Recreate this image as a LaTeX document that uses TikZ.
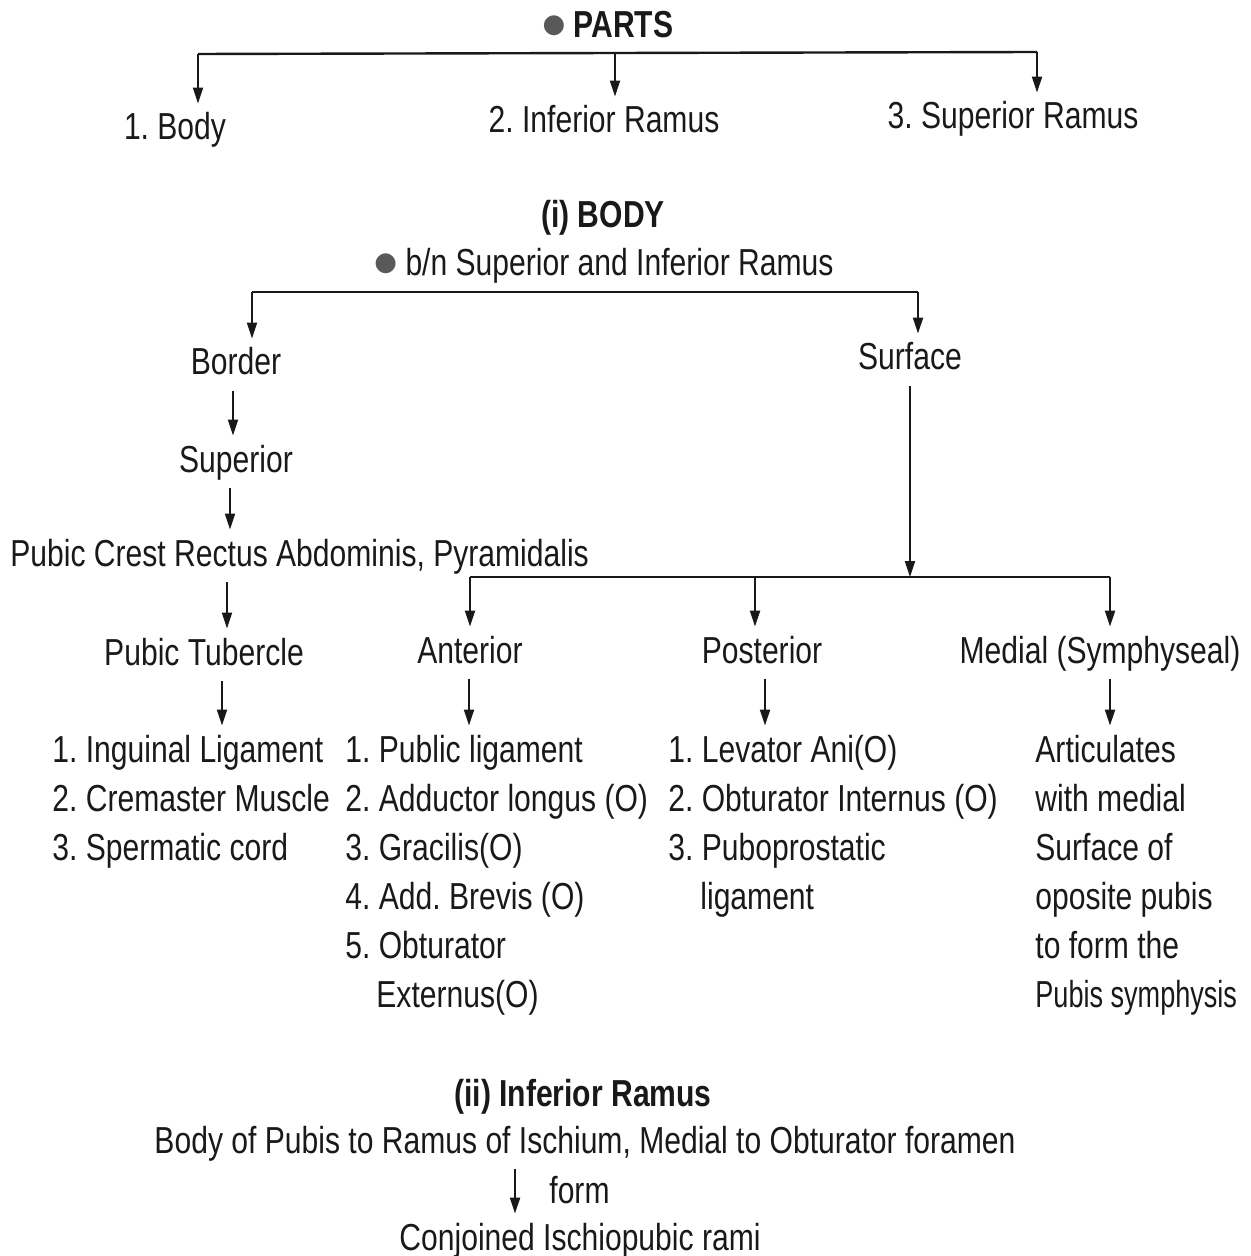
\documentclass[tikz,border=0pt]{standalone}
\usepackage{fontspec}
\setmainfont[FakeStretch=0.8]{Liberation Sans}
\newfontfamily\symfont{DejaVu Sans}
\usetikzlibrary{arrows.meta}
\newcommand\mybul{\raisebox{2.5pt}{\symfont\fontsize{13}{13}\selectfont\textcolor{black!65}{●}}}
\begin{document}
\begin{tikzpicture}[x=0.5pt,y=-0.5pt,
  txt/.style={font=\frenchspacing\fontsize{18.8}{24}\selectfont, text height=14pt, text depth=4pt, inner xsep=0pt, inner ysep=4pt, text=black!90},
  ctr/.style={txt, anchor=base},
  lft/.style={txt, anchor=base west},
  arr/.style={line width=1pt, black!90, -{Triangle[length=8pt,width=5pt]}},
  ln/.style={line width=1.2pt, black!90}]
\useasboundingbox (0,0) rectangle (1250,1256);
% ---------- PARTS ----------
\node[ctr] (parts) at (608,38) {\mybul\ \textbf{PARTS}};
\node[ctr] (body1) at (175,140) {1. Body};
\node[ctr] (infr) at (604,133) {2. Inferior Ramus};
\node[ctr] (supr) at (1013,129) {3. Superior Ramus};
\coordinate (pL) at (198,54);
\coordinate (pM) at (615,53);
\coordinate (pR) at (1037,52);
\draw[ln] (pL) -- (pR);
\draw[arr] (pL) -- (pL |- body1.north);
\draw[arr] (pM) -- (pM |- infr.north);
\draw[arr] (pR) -- (pR |- supr.north);
% ---------- (i) BODY ----------
\node[ctr] (bodyhead) at (603,228) {\textbf{(i) BODY}};
\node[ctr] (btwn) at (604,276) {\mybul\ b/n Superior and Inferior Ramus};
\node[ctr] (border) at (236,375) {Border};
\node[ctr] (surface) at (910,370) {Surface};
\coordinate (bL) at (252,292);
\coordinate (bR) at (918,292);
\draw[ln] (bL) -- (bR);
\draw[arr] (bL) -- (bL |- border.north);
\draw[arr] (bR) -- (bR |- surface.north);
\node[ctr] (superior) at (236,472) {Superior};
\node[lft] (crest) at (10,566) {Pubic Crest Rectus Abdominis, Pyramidalis};
\node[ctr] (tubercle) at (204,665) {Pubic Tubercle};
\coordinate (x1) at (233,0);
\coordinate (x2) at (230,0);
\coordinate (x3) at (227,0);
\coordinate (x4) at (222,0);
\draw[arr] (border.south -| x1) -- (superior.north -| x1);
\draw[arr] (superior.south -| x2) -- (crest.north -| x2);
\draw[arr] (crest.south -| x3) -- (tubercle.north -| x3);
% surface branch
\coordinate (sx) at (910,0);
\coordinate (hL) at (470,577);
\coordinate (hM) at (755,577);
\coordinate (hR) at (1110,577);
\draw[ln] (hL) -- (hR);
\draw[arr] (surface.south -| sx) -- (sx |- hL);
\node[ctr] (anterior) at (470,663) {Anterior};
\node[ctr] (posterior) at (762,663) {Posterior};
\node[ctr] (medial) at (1100,663) {Medial (Symphyseal)};
\draw[arr] (hL) -- (hL |- anterior.north);
\draw[arr] (hM) -- (hM |- posterior.north);
\draw[arr] (hR) -- (hR |- medial.north);
% lists
\node[lft] (c1a) at (52,762) {1. Inguinal Ligament};
\node[lft] (c1b) at (52,811) {2. Cremaster Muscle};
\node[lft] (c1c) at (52,860) {3. Spermatic cord};
\node[lft] (c2a) at (345,762) {1. Public ligament};
\node[lft] (c2b) at (345,811) {2. Adductor longus (O)};
\node[lft] (c2c) at (345,860) {3. Gracilis(O)};
\node[lft] (c2d) at (345,909) {4. Add. Brevis (O)};
\node[lft] (c2e) at (345,958) {5. Obturator};
\node[lft] (c2f) at (376,1007) {Externus(O)};
\node[lft] (c3a) at (668,762) {1. Levator Ani(O)};
\node[lft] (c3b) at (668,811) {2. Obturator Internus (O)};
\node[lft] (c3c) at (668,860) {3. Puboprostatic};
\node[lft] (c3d) at (700,909) {ligament};
\node[lft] (c4a) at (1035,762) {Articulates};
\node[lft] (c4b) at (1035,811) {with medial};
\node[lft] (c4c) at (1035,860) {Surface of};
\node[lft] (c4d) at (1035,909) {oposite pubis};
\node[lft] (c4e) at (1035,958) {to form the};
\node[lft] (c4f) at (1035,1007) {\scalebox{0.9}[1]{Pubis symphysis}};
\coordinate (ax) at (469,0);
\coordinate (px) at (765,0);
\coordinate (mx) at (1110,0);
\draw[arr] (tubercle.south -| x4) -- (c1a.north -| x4);
\draw[arr] (anterior.south -| ax) -- (c2a.north -| ax);
\draw[arr] (posterior.south -| px) -- (c3a.north -| px);
\draw[arr] (medial.south -| mx) -- (c4a.north -| mx);
% ---------- (ii) Inferior Ramus ----------
\node[ctr] (infhead) at (583,1106) {\textbf{(ii) Inferior Ramus}};
\node[ctr] (bodyof) at (585,1153) {Body of Pubis to Ramus of Ischium, Medial to Obturator foramen};
\node[ctr] (conj) at (580,1250) {Conjoined Ischiopubic rami};
\coordinate (fx) at (515,0);
\draw[arr] (bodyof.south -| fx) -- (conj.north -| fx);
\node[lft] (form) at (549,1203) {form};
\end{tikzpicture}
\end{document}
